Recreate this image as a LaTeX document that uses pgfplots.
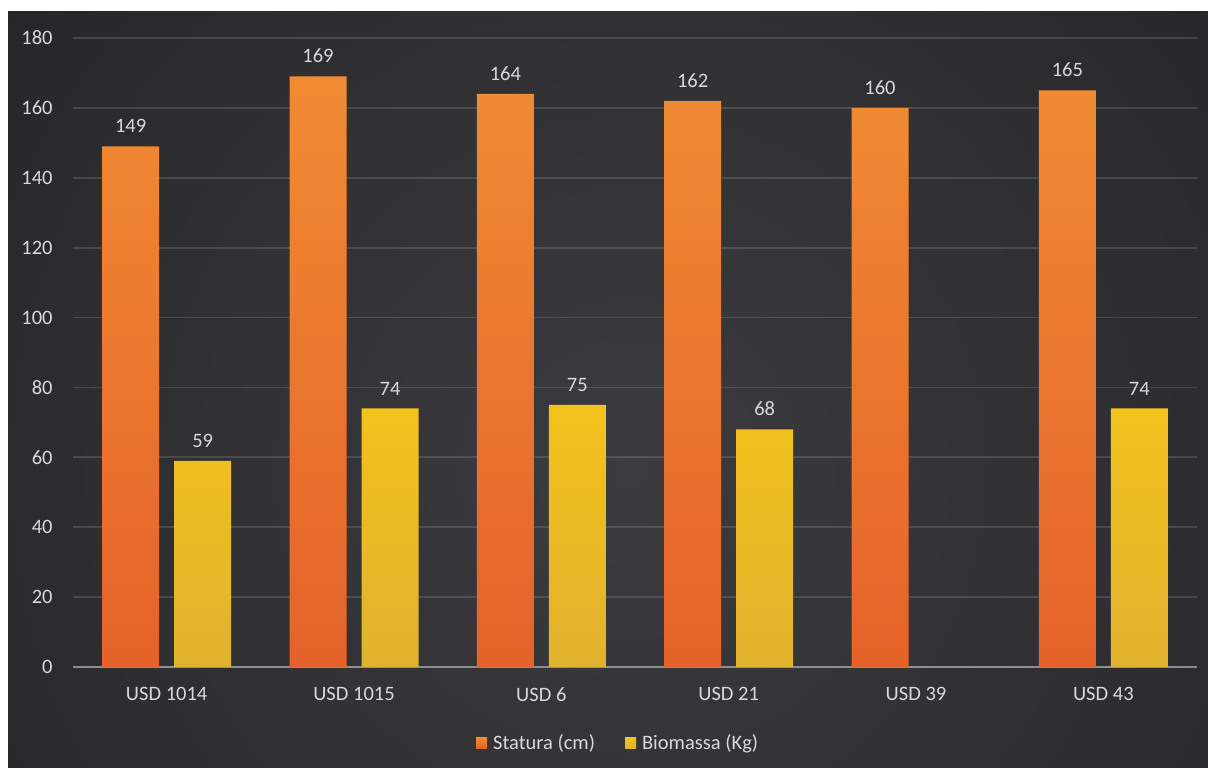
\documentclass[border=0pt]{standalone}
\usepackage{fontspec}
\setmainfont{Carlito}
\usepackage{pgfplots}
\pgfplotsset{compat=1.18}
\definecolor{bgA}{HTML}{3C3C40}
\definecolor{bgB}{HTML}{2C2C2E}
\definecolor{bgC}{HTML}{222224}
\definecolor{bgD}{HTML}{1A1A1C}
\definecolor{bgE}{HTML}{151416}
\definecolor{lblgray}{HTML}{D8D8DA}
\definecolor{zerogray}{HTML}{8C8C92}
\definecolor{orTop}{HTML}{F08B33}
\definecolor{orBot}{HTML}{E5622A}
\definecolor{yeTop}{HTML}{F3C21C}
\definecolor{yeBot}{HTML}{E0B22E}
\pgfdeclareradialshading{bgshade}{\pgfpoint{0bp}{0bp}}{color(0bp)=(bgA); color(21.5bp)=(bgB); color(32bp)=(bgC); color(43bp)=(bgD); color(50bp)=(bgE)}
\newcommand{\lblfont}{\fontsize{10.25pt}{12pt}\selectfont}
\begin{document}
\begin{tikzpicture}
\fill[white] (0,0) rectangle (4pt,383.5pt);
\fill[white] (0,377.5pt) rectangle (604pt,383.5pt);
\begin{scope}
\clip (4pt,-1pt) rectangle (605pt,377.5pt);
\shade[shading=bgshade] (-35pt,-201.5pt) rectangle (665pt,498.5pt);
\end{scope}
\begin{axis}[
  at={(36.5pt,50pt)}, anchor=south west,
  scale only axis, width=562pt, height=314.5pt,
  xmin=-0.5, xmax=5.5, ymin=0, ymax=180,
  enlargelimits=false, clip=false,
  ybar=7.5pt, bar width=28.5pt,
  xtick={0,...,5},
  xticklabels={USD 1014, USD 1015, USD 6, USD 21, USD 39, USD 43},
  ytick={0,20,...,180},
  major tick length=0pt,
  axis x line*=bottom, axis y line*=left,
  x axis line style={draw=zerogray, line width=1.2pt, -},
  y axis line style={draw=none},
  ymajorgrids, grid style={color=white, opacity=0.13, line width=0.9pt},
  /pgf/number format/assume math mode=true,
  tick label style={text=lblgray, font=\lblfont, inner sep=0pt},
  xticklabel style={anchor=north, yshift=-10pt},
  yticklabel style={anchor=east, xshift=-10pt},
  nodes near coords,
  every node near coord/.append style={text=lblgray, font=\lblfont, anchor=south, inner sep=0pt, yshift=6.5pt},
  legend columns=2,
  legend style={at={(0.485,-0.121)}, anchor=center, draw=none, fill=none,
    text=lblgray, font=\lblfont, nodes={inner sep=1pt}, column sep=2pt,
    /tikz/every even column/.append style={column sep=14pt}},
]
\addplot[draw=none, top color=orTop, bottom color=orBot,
  legend image code/.code={\fill[orTop!50!orBot] (0pt,-2.6pt) rectangle (5.5pt,2.6pt);}]
  coordinates {(0,149) (1,169) (2,164) (3,162) (4,160) (5,165)};
\addlegendentry{Statura (cm)}
\addplot[draw=none, top color=yeTop, bottom color=yeBot,
  legend image code/.code={\fill[yeTop!50!yeBot] (0pt,-2.6pt) rectangle (5.5pt,2.6pt);}]
  coordinates {(0,59) (1,74) (2,75) (3,68) (5,74)};
\addlegendentry{Biomassa (Kg)}
\end{axis}
\pgfresetboundingbox
\useasboundingbox (0,0) rectangle (604pt,383.5pt);
\end{tikzpicture}
\end{document}
